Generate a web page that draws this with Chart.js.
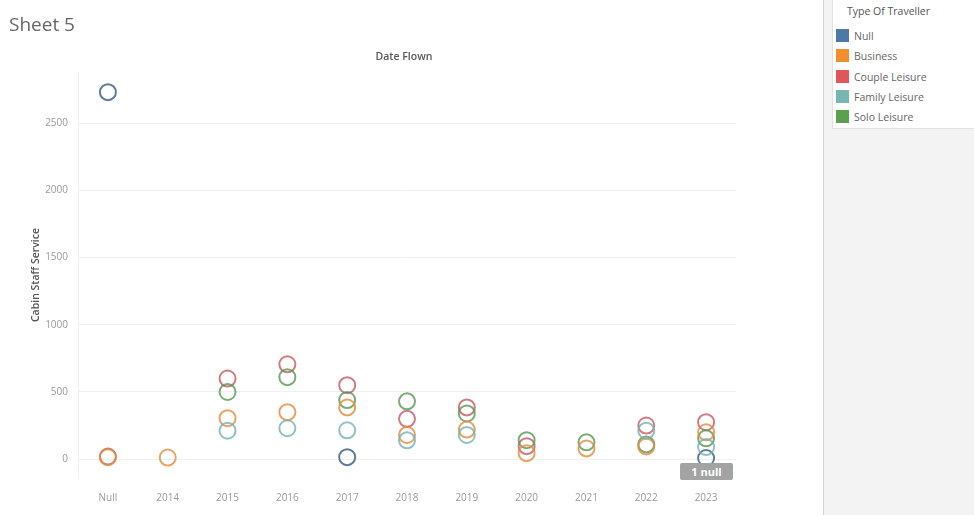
<!DOCTYPE html>
<html>
<head>
<meta charset="utf-8">
<script src="https://cdn.jsdelivr.net/npm/chart.js@4.4.1/dist/chart.umd.min.js"></script>
<style>
  html, body { margin: 0; padding: 0; background: #fff; }
  body { width: 974px; height: 515px; position: relative; overflow: hidden; font-family: "Open Sans", "Noto Sans", sans-serif; }
  #title { position: absolute; left: 9px; top: 11px; font-size: 19px; color: #666; }
  #header { position: absolute; left: 0; width: 822px; top: 49px; }
  #header span { position: absolute; left: 404px; transform: translateX(-50%); font-size: 10.5px; font-weight: 600; color: #555; white-space: nowrap; }
  #wrap { position: absolute; left: 0; top: 0; width: 822px; height: 515px; }
  #side { position: absolute; left: 823px; top: 0; width: 151px; height: 515px; background: #f3f3f3; border-left: 1px solid #d4d4d4; }
  #legend { position: absolute; left: 8px; top: 0; right: 0; height: 128px; background: #fff; border: 1px solid #e2e2e2; border-top: none; border-right: none; }
  #legend .lt { position: absolute; left: 14px; top: 4px; font-size: 10.5px; color: #555; }
  #legend .it { position: absolute; left: 3px; font-size: 10.5px; color: #666; }
  #legend .sw { display: inline-block; width: 13px; height: 13px; vertical-align: -2px; margin-right: 5px; }
  #badge { position: absolute; left: 680px; top: 463px; width: 53px; height: 17px; background: #a3a3a3; color: #fff; font-size: 11px; font-weight: 700; text-align: center; line-height: 17px; border-radius: 2px; }
</style>
</head>
<body>
<div id="wrap"><canvas id="chart" width="822" height="515"></canvas></div>
<div id="title">Sheet 5</div>
<div id="header"><span>Date Flown</span></div>
<div id="side"><div id="legend"></div></div>
<div id="badge">1 null</div>
<script>
  // categorias do eixo X (Date Flown)
  const years = ["Null", "2014", "2015", "2016", "2017", "2018", "2019", "2020", "2021", "2022", "2023"];

  // Cabin Staff Service por tipo de viajante (null = sem marca)
  const nullType = [2730, null, null, null, 15, null, null, null, null, null, 8];
  const business = [15, 12, 305, 350, 385, 180, 220, 45, 80, 95, 200];
  const couple = [20, null, 600, 706, 550, 300, 385, 97, null, 250, 275];
  const family = [null, null, 212, 230, 215, 140, 180, null, null, 212, 90];
  const solo = [null, null, 500, 610, 440, 430, 340, 141, 125, 110, 155];

  const travellerTypes = ["Null", "Business", "Couple Leisure", "Family Leisure", "Solo Leisure"];
  const colors = ["#4e79a7", "#f28e2b", "#e15759", "#76b7b2", "#59a14f"];
  const strokes = ["rgba(78,110,140,0.9)", "rgba(226,140,60,0.8)", "rgba(196,90,100,0.8)", "rgba(118,178,176,0.8)", "rgba(90,150,85,0.8)"];

  const yTicks = [0, 500, 1000, 1500, 2000, 2500];

  // legenda em HTML
  const legend = document.getElementById("legend");
  legend.innerHTML = '<div class="lt">Type Of Traveller</div>' +
    travellerTypes.map((t, i) =>
      `<div class="it" style="top:${29 + i * 20.3}px"><span class="sw" style="background:${colors[i]}"></span>${t}</div>`
    ).join("");

  const series = [nullType, business, couple, family, solo];
  // ordem de desenho: Null por cima de tudo
  const drawOrder = [3, 1, 4, 2, 0];

  const datasets = drawOrder.map((i, k) => ({
    label: travellerTypes[i],
    data: series[i],
    showLine: false,
    pointStyle: "circle",
    pointRadius: 8,
    pointHoverRadius: 8,
    pointBorderWidth: 2,
    pointBorderColor: strokes[i],
    pointBackgroundColor: "rgba(255,255,255,0)",
    order: k,
  }));

  new Chart(document.getElementById("chart"), {
    type: "line",
    data: { labels: years, datasets },
    options: {
      responsive: false,
      animation: false,
      events: [],
      layout: { padding: { left: 0, right: 86, top: 72, bottom: 0 } },
      plugins: { legend: { display: false }, tooltip: { enabled: false } },
      scales: {
        x: {
          type: "category",
          offset: true,
          grid: { display: false },
          border: { display: false },
          ticks: { color: "#999", font: { family: "Open Sans", size: 10 }, padding: 6, maxRotation: 0, autoSkip: false },
          afterFit(scale) { scale.height = 37; },
        },
        y: {
          min: -140,
          max: 2880,
          afterBuildTicks(scale) { scale.ticks = yTicks.map((v) => ({ value: v })); },
          grid: { color: "#f0f0f0", drawTicks: false },
          border: { display: true, color: "#f0f0f0" },
          ticks: { color: "#999", font: { family: "Open Sans", size: 10 }, padding: 10, callback: (v) => String(v) },
          title: {
            display: true,
            text: "Cabin Staff Service",
            color: "#555",
            font: { family: "Open Sans", size: 10.5, weight: "600" },
            padding: { top: 30 },
          },
          afterFit(scale) { scale.width = 78; },
        },
      },
    },
  });
</script>
</body>
</html>
